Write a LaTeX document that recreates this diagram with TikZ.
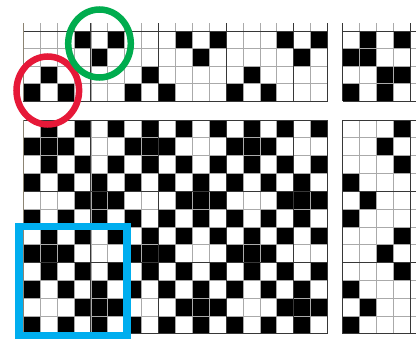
\documentclass[tikz,border=0pt]{standalone}
\definecolor{lightln}{RGB}{170,170,170}
\definecolor{darkln}{RGB}{55,55,55}
\definecolor{bordln}{RGB}{140,132,115}
\definecolor{redc}{RGB}{230,24,56}
\definecolor{greenc}{RGB}{0,172,78}
\definecolor{bluec}{RGB}{0,174,239}
\tikzset{
  thinln/.style={draw=lightln, line width=0.8pt},
  boldln/.style={draw=darkln, line width=1pt},
  edgeln/.style={draw=bordln, line width=1.6pt},
  cellfill/.style={fill=black},
  ringmark/.style={line width=6.5pt},
}
\def\LX{23.3}\def\CW{16.9}
\def\TY{31.3}\def\TH{17.5}\def\TT{23}
\def\BY{120}\def\BH{17.83}
\def\RX{342.8}\def\RW{17}
\begin{document}
\begin{tikzpicture}[x=1pt,y=-1pt]
\useasboundingbox (0,0) rectangle (416,340);
\clip (0,0) rectangle (416,340);
\fill[white] (0,0) rectangle (416,340);
% ---------- threading (top left)
\foreach \b in {0,6,12}{
  \foreach \c/\r in {1/4,2/3,3/4,4/1,5/2,6/1}{
    \fill[cellfill] ({\LX+(\b+\c-1)*\CW},{\TY+(\r-1)*\TH}) rectangle ++(\CW,\TH);
  }
}
% ---------- drawdown (bottom left)
\foreach \r/\p in {1/{2,4,6},2/{1,2,3},3/{2,4,6},4/{1,3,5},5/{4,5,6},6/{1,3,5},
                   7/{2,4,6},8/{1,2,3},9/{2,4,6},10/{1,3,5},11/{4,5,6},12/{1,3,5}}{
  \foreach \b in {0,6,12}{
    \foreach \m in \p{
      \fill[cellfill] ({\LX+(\b+\m-1)*\CW},{\BY+(\r-1)*\BH}) rectangle ++(\CW,\BH);
    }
  }
}
% ---------- tie-up (top right)
\foreach \r/\t in {1/2,1/4,2/1,2/2,3/3,3/4,4/1,4/3}{
  \fill[cellfill] ({\RX+(\t-1)*\RW},{\TY+(\r-1)*\TH}) rectangle ++(\RW,\TH);
}
% ---------- treadling (bottom right)
\foreach \r/\t in {1/4,2/3,3/4,4/1,5/2,6/1,7/4,8/3,9/4,10/1,11/2,12/1}{
  \fill[cellfill] ({\RX+(\t-1)*\RW},{\BY+(\r-1)*\BH}) rectangle ++(\RW,\BH);
}
% ---------- grid lines, left blocks
\foreach \c in {1,...,17}{
  \draw[thinln] ({\LX+\c*\CW},\TT) -- ({\LX+\c*\CW},{\TY+4*\TH});
  \draw[thinln] ({\LX+\c*\CW},\BY) -- ({\LX+\c*\CW},{\BY+12*\BH});
}
\foreach \k in {1,2,3}{
  \draw[thinln] (\LX,{\TY+\k*\TH}) -- ({\LX+18*\CW},{\TY+\k*\TH});
}
\foreach \k in {1,2,3,5,6,7,9,10,11}{
  \draw[thinln] (\LX,{\BY+\k*\BH}) -- ({\LX+18*\CW},{\BY+\k*\BH});
}
\foreach \c in {4,8,12,16,18}{
  \draw[boldln] ({\LX+\c*\CW},\TT) -- ({\LX+\c*\CW},{\TY+4*\TH});
  \draw[boldln] ({\LX+\c*\CW},\BY) -- ({\LX+\c*\CW},{\BY+12*\BH});
}
\foreach \k in {0,4}{
  \draw[boldln] (\LX,{\TY+\k*\TH}) -- ({\LX+18*\CW},{\TY+\k*\TH});
}
\foreach \k in {0,4,8,12}{
  \draw[boldln] (\LX,{\BY+\k*\BH}) -- ({\LX+18*\CW},{\BY+\k*\BH});
}
\draw[edgeln] (\LX,\TT) -- (\LX,{\TY+4*\TH});
\draw[edgeln] (\LX,\BY) -- (\LX,{\BY+12*\BH});
% ---------- grid lines, right blocks
\foreach \c in {1,2,3,5}{
  \draw[thinln] ({\RX+\c*\RW},\TT) -- ({\RX+\c*\RW},{\TY+4*\TH});
  \draw[thinln] ({\RX+\c*\RW},\BY) -- ({\RX+\c*\RW},{\BY+12*\BH});
}
\foreach \k in {1,2,3}{
  \draw[thinln] (\RX,{\TY+\k*\TH}) -- (416,{\TY+\k*\TH});
}
\foreach \k in {1,2,3,5,6,7,9,10,11}{
  \draw[thinln] (\RX,{\BY+\k*\BH}) -- (416,{\BY+\k*\BH});
}
\foreach \c in {0,4}{
  \draw[boldln] ({\RX+\c*\RW},\TT) -- ({\RX+\c*\RW},{\TY+4*\TH});
  \draw[boldln] ({\RX+\c*\RW},\BY) -- ({\RX+\c*\RW},{\BY+12*\BH});
}
\foreach \k in {0,4}{
  \draw[boldln] (\RX,{\TY+\k*\TH}) -- (416,{\TY+\k*\TH});
}
\foreach \k in {0,4,8,12}{
  \draw[boldln] (\RX,{\BY+\k*\BH}) -- (416,{\BY+\k*\BH});
}
% ---------- highlight marks
\draw[ringmark, redc] (47.8,90.5) ellipse [x radius=31.3pt, y radius=34pt];
\draw[ringmark, greenc] (99.5,43.5) ellipse [x radius=31.3pt, y radius=34pt];
\draw[bluec, line width=7.5pt] (19,226.5) rectangle (127,335.5);
\end{tikzpicture}
\end{document}
